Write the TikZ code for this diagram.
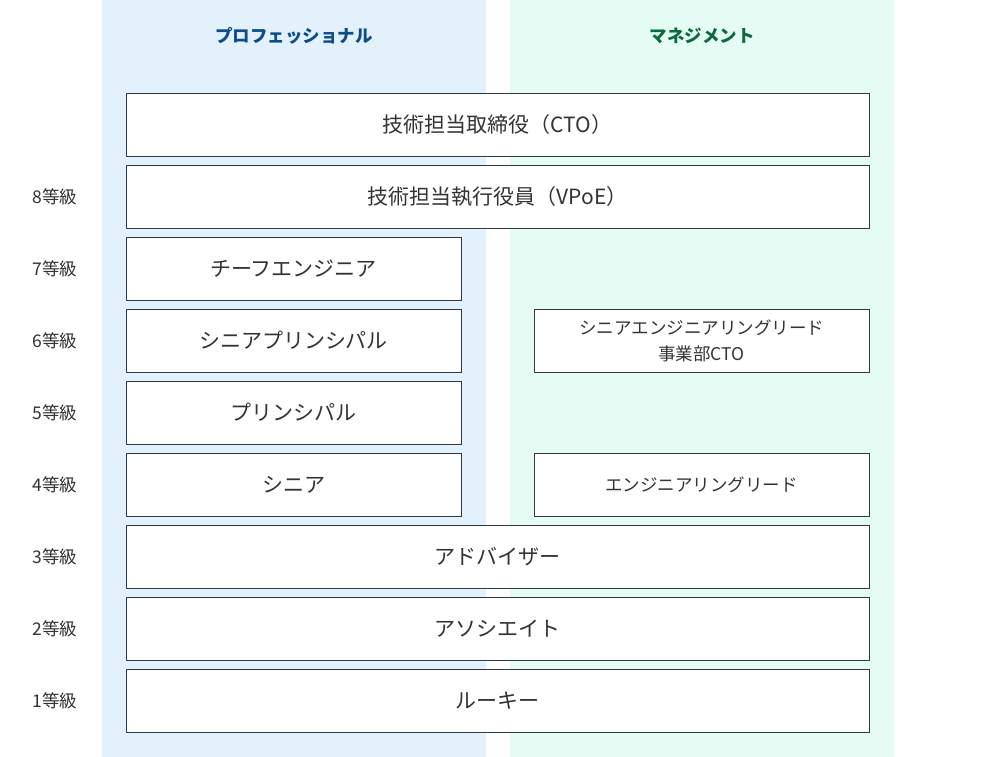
\documentclass[tikz,border=0pt]{standalone}
\usepackage{fontspec}
\setmainfont{Noto Sans CJK JP}
\definecolor{bluebg}{HTML}{E3F1FD}
\definecolor{greenbg}{HTML}{E5FCF5}
\definecolor{bluehd}{HTML}{0B4C8C}
\definecolor{greenhd}{HTML}{0B6B3C}
\definecolor{edge}{HTML}{2F3A44}
\definecolor{txt}{HTML}{333333}
\begin{document}
\begin{tikzpicture}[x=1pt,y=-1pt,
  gradebox/.style={draw=edge,line width=0.9pt,fill=white,inner sep=0pt,text=txt,font=\fontsize{21}{25}\selectfont,align=center},
  smallbox/.style={gradebox,font=\fontsize{17.5}{26}\selectfont},
  gradelbl/.style={text=txt,font=\fontsize{17.5}{20}\selectfont},
  hdr/.style={font=\bfseries\fontsize{17.5}{20}\selectfont}]
\useasboundingbox (0,0) rectangle (996,757);
\fill[bluebg] (102,0) rectangle (486,757);
\fill[greenbg] (510,0) rectangle (894,757);
\node[hdr,text=bluehd] (hp) at (294,36) {プロフェッショナル};
\node[hdr,text=greenhd] (hm) at (702,36) {マネジメント};
% boxes
\node[gradebox,minimum width=743,minimum height=63] (cto) at (497.5,124.5) {技術担当取締役（CTO）};
\node[gradebox,minimum width=743,minimum height=63] (vpoe) at (497.5,196.5) {技術担当執行役員（VPoE）};
\node[gradebox,minimum width=335,minimum height=63] (chief) at (293.5,268.5) {チーフエンジニア};
\node[gradebox,minimum width=335,minimum height=63] (sprin) at (293.5,340.5) {シニアプリンシパル};
\node[smallbox,minimum width=335,minimum height=63] (seml) at (701.5,340.5) {シニアエンジニアリングリード\\事業部CTO};
\node[gradebox,minimum width=335,minimum height=63] (prin) at (293.5,412.5) {プリンシパル};
\node[gradebox,minimum width=335,minimum height=63] (senior) at (293.5,484.5) {シニア};
\node[smallbox,minimum width=335,minimum height=63] (eml) at (701.5,484.5) {エンジニアリングリード};
\node[gradebox,minimum width=743,minimum height=63] (adv) at (497.5,556.5) {アドバイザー};
\node[gradebox,minimum width=743,minimum height=63] (asc) at (497.5,628.5) {アソシエイト};
\node[gradebox,minimum width=743,minimum height=63] (rook) at (497.5,700.5) {ルーキー};
% grade labels
\node[gradelbl] (g8) at (55,197) {8等級};
\node[gradelbl] (g7) at (55,269) {7等級};
\node[gradelbl] (g6) at (55,341) {6等級};
\node[gradelbl] (g5) at (55,413) {5等級};
\node[gradelbl] (g4) at (55,485) {4等級};
\node[gradelbl] (g3) at (55,557) {3等級};
\node[gradelbl] (g2) at (55,629) {2等級};
\node[gradelbl] (g1) at (55,701) {1等級};
\end{tikzpicture}
\end{document}
